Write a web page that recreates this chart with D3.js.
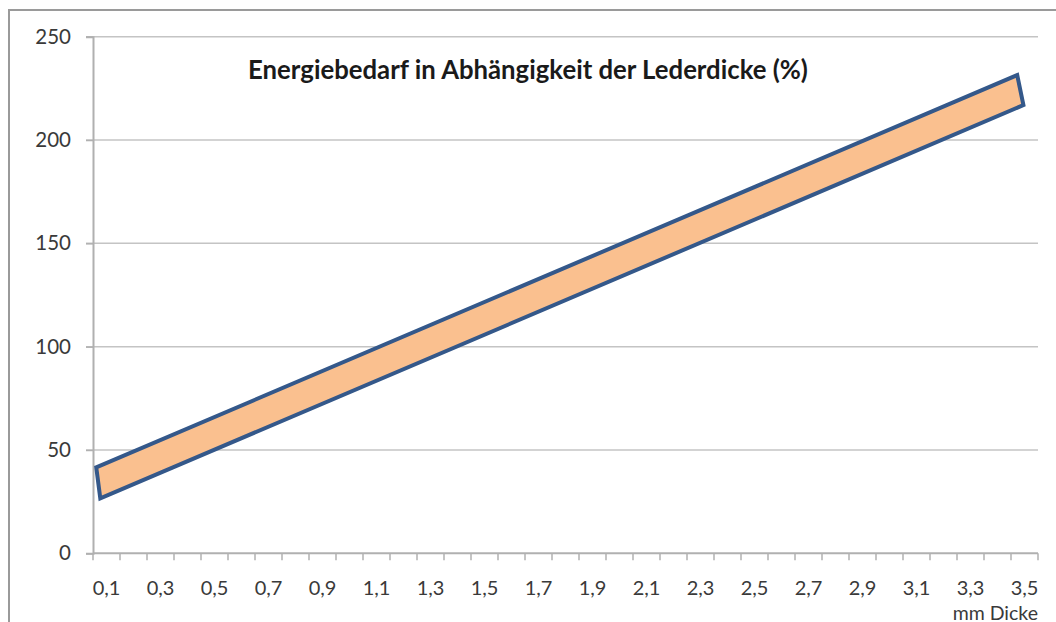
<!DOCTYPE html>
<html>
<head>
<meta charset="utf-8">
<script src="https://cdn.jsdelivr.net/npm/d3@7"></script>
<style>
  html, body { margin: 0; padding: 0; background: #fff; }
  svg { display: block; }
  text { font-family: Lato, "Open Sans", sans-serif; }
</style>
</head>
<body>
<svg id="chart" width="1056" height="622"></svg>
<script>
// ---- data ----
const categories = ["0,1","0,2","0,3","0,4","0,5","0,6","0,7","0,8","0,9","1,0",
                    "1,1","1,2","1,3","1,4","1,5","1,6","1,7","1,8","1,9","2,0",
                    "2,1","2,2","2,3","2,4","2,5","2,6","2,7","2,8","2,9","3,0",
                    "3,1","3,2","3,3","3,4","3,5"];
const yTicks = [0, 50, 100, 150, 200, 250];
// band shape corners (mm thickness, energy %)
const bandX = [0.062, 3.473, 3.496, 0.077];
const bandY = [41.6, 231.4, 216.9, 26.6];
const title = "Energiebedarf in Abhängigkeit der Lederdicke (%)";
const xAxisTitle = "mm Dicke";

// ---- layout ----
const svg = d3.select("#chart");
const x0 = 93, x1 = 1038, yTop = 36.7, yBot = 553.3;

const xBand = d3.scaleBand().domain(categories).range([x0, x1]).paddingInner(0).paddingOuter(0);
const xLin = d3.scaleLinear().domain([0.05, 3.55]).range([x0, x1]);
const y = d3.scaleLinear().domain([0, 250]).range([yBot, yTop]);

// outer frame
svg.append("rect").attr("x", 9).attr("y", 10).attr("width", 1100).attr("height", 700)
  .attr("fill", "none").attr("stroke", "#9a9a9a").attr("stroke-width", 2);

// gridlines
svg.append("g").selectAll("line").data(yTicks.filter(d => d > 0)).join("line")
  .attr("x1", 86).attr("x2", x1)
  .attr("y1", d => y(d)).attr("y2", d => y(d))
  .attr("stroke", "#c4c4c4").attr("stroke-width", 1.5);

// y axis
const yAxis = svg.append("g").attr("transform", `translate(${x0},0)`)
  .call(d3.axisLeft(y).tickValues(yTicks).tickSize(7).tickPadding(15).tickFormat(d3.format("d")));
yAxis.select(".domain").attr("stroke", "#b0b0b0").attr("stroke-width", 2);
yAxis.selectAll(".tick line").attr("stroke", "#b0b0b0").attr("stroke-width", 1.5);
yAxis.selectAll(".tick text").attr("font-size", 20.5).attr("fill", "#3a3a3a")
  .attr("font-family", "Lato, sans-serif");

// x axis
const xg = svg.append("g").attr("transform", `translate(0,${yBot})`);
xg.append("line").attr("x1", x0).attr("x2", x1).attr("y1", 0).attr("y2", 0)
  .attr("stroke", "#b0b0b0").attr("stroke-width", 2);
const boundaries = categories.map(c => xBand(c)).concat([xBand(categories[categories.length-1]) + xBand.bandwidth()]);
xg.selectAll("line.tk").data(boundaries).join("line").attr("class", "tk")
  .attr("x1", d => d).attr("x2", d => d).attr("y1", 0).attr("y2", 7)
  .attr("stroke", "#b0b0b0").attr("stroke-width", 1.5);
xg.selectAll("text.lbl").data(categories.filter((c, i) => i % 2 === 0)).join("text").attr("class", "lbl")
  .attr("x", d => xBand(d) + xBand.bandwidth() / 2).attr("y", 42)
  .attr("text-anchor", "middle")
  .attr("font-size", 20).attr("fill", "#3a3a3a").text(d => d);

// x axis title
svg.append("text").attr("x", x1).attr("y", 619.5).attr("text-anchor", "end")
  .attr("font-size", 19.5).attr("fill", "#3a3a3a").text(xAxisTitle);

// band shape
const pts = bandX.map((v, i) => [xLin(v), y(bandY[i])]);
svg.append("path").attr("d", d3.line()(pts) + "Z")
  .attr("fill", "#FAC08F").attr("stroke", "#34588A").attr("stroke-width", 4)
  .attr("stroke-linejoin", "miter");

// title
const t = svg.append("text").attr("x", 528).attr("y", 79).attr("text-anchor", "middle")
  .attr("font-size", 22).attr("font-weight", "bold").attr("fill", "#1a1a1a").text(title);
const w = t.node().getComputedTextLength();
t.attr("font-size", 22 * 560 / w);
</script>
</body>
</html>
